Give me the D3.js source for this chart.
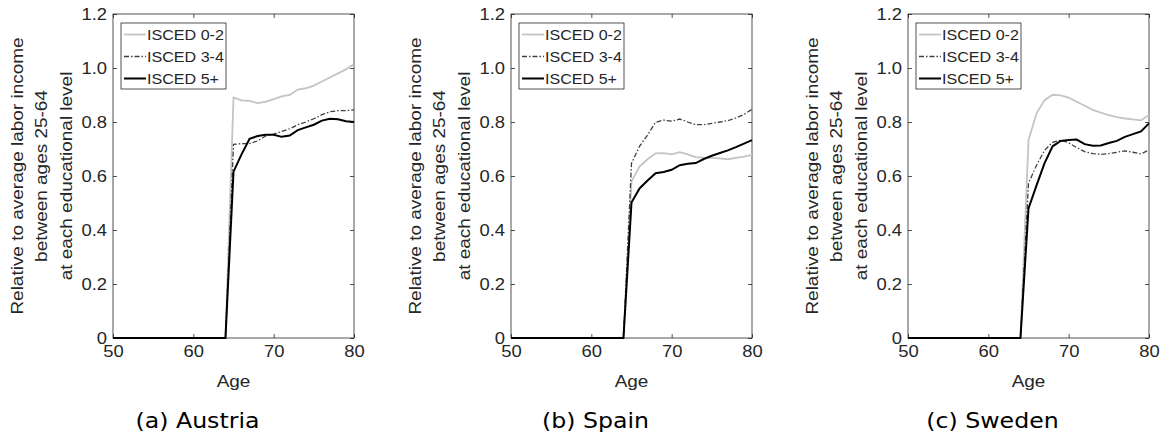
<!DOCTYPE html>
<html>
<head>
<meta charset="utf-8">
<script src="https://cdn.jsdelivr.net/npm/d3@7"></script>
<style>
  body { margin: 0; background: #fff; }
  svg text { font-family: "Liberation Sans", Arial, sans-serif; fill: #262626; }
  svg text.caption { font-family: "DejaVu Sans", Verdana, sans-serif; fill: #000; }
</style>
</head>
<body>
<svg id="chart" width="1162" height="436"></svg>
<script>
// ages 50..80
const ages = d3.range(50, 81);
const seriesNames = ['ISCED 0-2', 'ISCED 3-4', 'ISCED 5+'];
const countries = ['(a) Austria', '(b) Spain', '(c) Sweden'];
const xTicks = [50, 60, 70, 80];
const yTicks = [0, 0.2, 0.4, 0.6, 0.8, 1.0, 1.2];
const yLabelLines = ['Relative to average labor income', 'between ages 25-64', 'at each educational level'];

// values from age 65 to 80 (zero for ages 50..64)
const austriaLow  = [0.891, 0.880, 0.878, 0.870, 0.875, 0.885, 0.895, 0.900, 0.920, 0.925, 0.935, 0.950, 0.965, 0.980, 0.995, 1.015];
const austriaMid  = [0.717, 0.720, 0.720, 0.730, 0.748, 0.755, 0.765, 0.775, 0.790, 0.800, 0.812, 0.827, 0.838, 0.842, 0.842, 0.845];
const austriaHigh = [0.616, 0.680, 0.738, 0.748, 0.753, 0.753, 0.745, 0.750, 0.770, 0.780, 0.790, 0.805, 0.812, 0.810, 0.803, 0.800];

const spainLow  = [0.580, 0.635, 0.662, 0.684, 0.685, 0.680, 0.688, 0.680, 0.670, 0.668, 0.667, 0.665, 0.662, 0.667, 0.672, 0.678];
const spainMid  = [0.647, 0.710, 0.752, 0.799, 0.807, 0.803, 0.811, 0.800, 0.790, 0.790, 0.795, 0.800, 0.805, 0.815, 0.828, 0.847];
const spainHigh = [0.502, 0.554, 0.583, 0.610, 0.615, 0.623, 0.640, 0.645, 0.648, 0.663, 0.675, 0.685, 0.695, 0.707, 0.720, 0.733];

const swedenLow  = [0.733, 0.832, 0.881, 0.901, 0.899, 0.890, 0.875, 0.860, 0.845, 0.835, 0.825, 0.818, 0.813, 0.810, 0.806, 0.826];
const swedenMid  = [0.573, 0.640, 0.695, 0.725, 0.733, 0.723, 0.705, 0.690, 0.683, 0.680, 0.683, 0.688, 0.693, 0.688, 0.682, 0.696];
const swedenHigh = [0.480, 0.565, 0.648, 0.710, 0.730, 0.733, 0.735, 0.718, 0.712, 0.713, 0.722, 0.730, 0.745, 0.755, 0.765, 0.795];

const panels = [
  [austriaLow, austriaMid, austriaHigh],
  [spainLow, spainMid, spainHigh],
  [swedenLow, swedenMid, swedenHigh]
];

const styles = [
  { color: '#c4c4c4', dash: null, width: 1.8 },
  { color: '#404040', dash: '5,2,1.5,2', width: 1.3 },
  { color: '#000000', dash: null, width: 2 }
];

// the original glyphs are a bit wider than Liberation Sans
const widen = 1.15;

// zero before retirement age, then the series
function fullSeries(vals) {
  return ages.map(a => ({ age: a, v: a < 65 ? 0 : vals[a - 65] }));
}

// move x/y into a transform so the text can be widened around its anchor
function stretchText(sel, k) {
  sel.each(function() {
    const t = d3.select(this);
    const tx = +t.attr('x') || 0, ty = +t.attr('y') || 0;
    t.attr('x', null).attr('y', null)
      .attr('transform', `translate(${tx},${ty}) scale(${k},1)`);
  });
}

const svg = d3.select('#chart');
const panelLeft = [113, 511, 908];
const plotW = 241, plotTop = 14, plotH = 324;

panels.forEach((series, p) => {
  const g = svg.append('g').attr('transform', `translate(${panelLeft[p]},${plotTop})`);
  const x = d3.scaleLinear().domain([50, 80]).range([0, plotW]);
  const y = d3.scaleLinear().domain([0, 1.2]).range([plotH, 0]);

  // box
  g.append('rect').attr('width', plotW).attr('height', plotH)
    .attr('fill', 'none').attr('stroke', '#262626').attr('stroke-width', 0.8);

  const fmt = d => d === 0 ? '0' : d3.format('.1f')(d);

  g.append('g').attr('transform', `translate(0,${plotH})`)
    .call(d3.axisBottom(x).tickValues(xTicks).tickSize(-4).tickPadding(8).tickFormat(d3.format('d')));
  g.append('g')
    .call(d3.axisLeft(y).tickValues(yTicks).tickSize(-4).tickPadding(6).tickFormat(fmt));
  g.append('g').call(d3.axisTop(x).tickValues(xTicks).tickSize(-4).tickFormat(''));
  g.append('g').attr('transform', `translate(${plotW},0)`)
    .call(d3.axisRight(y).tickValues(yTicks).tickSize(-4).tickFormat(''));

  g.selectAll('.domain').remove();
  g.selectAll('.tick line').attr('stroke', '#262626').attr('stroke-width', 0.8);
  const tickText = g.selectAll('.tick text').filter(function() { return this.textContent !== ''; });
  tickText.attr('font-size', null).style('font-size', '16px');
  stretchText(tickText, widen);

  const line = d3.line().x(d => x(d.age)).y(d => y(d.v));
  series.forEach((vals, s) => {
    g.append('path').datum(fullSeries(vals))
      .attr('d', line).attr('fill', 'none')
      .attr('stroke', styles[s].color)
      .attr('stroke-width', styles[s].width)
      .attr('stroke-dasharray', styles[s].dash);
  });

  // axis labels
  const xl = g.append('text').attr('x', plotW / 2).attr('y', plotH + 49)
    .attr('text-anchor', 'middle').style('font-size', '16.5px').text('Age');
  stretchText(xl, widen);

  const yl = g.append('text')
    .attr('transform', `translate(-90.5,${plotH / 2}) rotate(-90) scale(${widen},1)`)
    .attr('text-anchor', 'middle').style('font-size', '16.5px');
  yLabelLines.forEach((t, i) => {
    yl.append('tspan').attr('x', 0).attr('dy', i === 0 ? 0 : 25).text(t);
  });

  // legend
  const lg = g.append('g').attr('transform', 'translate(8,9)');
  lg.append('rect').attr('width', 105).attr('height', 66)
    .attr('fill', '#fff').attr('stroke', '#262626').attr('stroke-width', 0.8);
  seriesNames.forEach((name, s) => {
    const ly = 11.5 + s * 22;
    lg.append('line').attr('x1', 3).attr('x2', 25).attr('y1', ly).attr('y2', ly)
      .attr('stroke', styles[s].color).attr('stroke-width', styles[s].width)
      .attr('stroke-dasharray', styles[s].dash);
    const lt = lg.append('text').attr('x', 26).attr('y', ly + 5)
      .style('font-size', '14px').text(name);
    stretchText(lt, widen);
  });

  // caption, centred on the whole subfigure
  const cap = svg.append('text').attr('class', 'caption')
    .attr('x', panelLeft[p] + plotW / 2 - 36).attr('y', 428)
    .attr('text-anchor', 'middle').style('font-size', '21.5px').text(countries[p]);
  stretchText(cap, 1.1);
});
</script>
</body>
</html>
